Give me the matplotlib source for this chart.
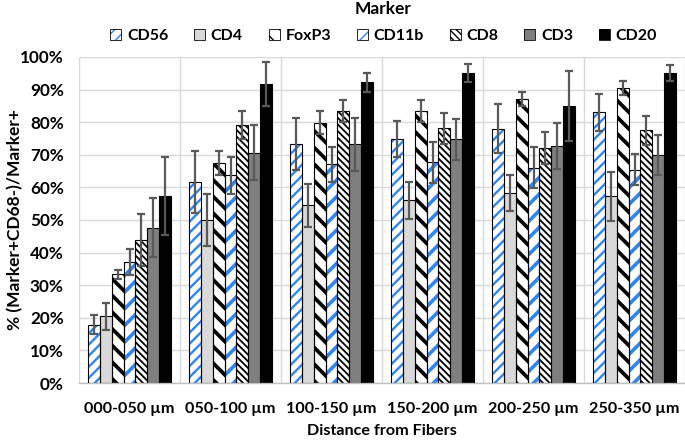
import matplotlib
matplotlib.use("Agg")
import matplotlib.pyplot as plt
import numpy as np
from matplotlib.patches import Patch

categories = ["000-050 µm", "050-100 µm", "100-150 µm", "150-200 µm", "200-250 µm", "250-350 µm"]
markers = ["CD56", "CD4", "FoxP3", "CD11b", "CD8", "CD3", "CD20"]

CD56 = [17.9, 61.7, 73.3, 74.9, 78.0, 83.1]
CD4 = [20.4, 50.1, 54.5, 56.0, 58.2, 57.3]
FoxP3 = [33.3, 67.5, 79.8, 83.4, 87.1, 90.4]
CD11b = [37.0, 63.7, 67.1, 67.7, 66.0, 65.4]
CD8 = [43.8, 79.1, 83.4, 78.1, 72.1, 77.5]
CD3 = [47.6, 70.6, 73.2, 74.8, 72.7, 70.0]
CD20 = [57.3, 91.7, 92.2, 95.1, 85.0, 95.0]

CD56_err = [3.0, 9.6, 8.0, 5.6, 7.5, 5.7]
CD4_err = [4.0, 8.0, 6.5, 5.6, 5.5, 7.5]
FoxP3_err = [1.5, 3.8, 3.5, 3.3, 2.1, 2.2]
CD11b_err = [4.0, 5.6, 5.4, 6.3, 6.3, 4.8]
CD8_err = [8.0, 4.2, 3.4, 4.8, 4.8, 4.4]
CD3_err = [9.0, 8.4, 8.1, 6.3, 7.1, 6.1]
CD20_err = [12.0, 6.7, 3.0, 2.8, 10.8, 2.5]

values = [CD56, CD4, FoxP3, CD11b, CD8, CD3, CD20]
errors = [CD56_err, CD4_err, FoxP3_err, CD11b_err, CD8_err, CD3_err, CD20_err]

BLUE = "#2f86f0"
# (facecolor, hatch, hatch color, hatch linewidth)
styles = [
    ("white", "///", BLUE, 1.7),
    ("#d9d9d9", None, None, 0),
    ("white", "\\\\", "black", 2.7),
    ("white", "//", BLUE, 2.6),
    ("white", "\\\\\\\\\\", "black", 1.3),
    ("#7f7f7f", None, None, 0),
    ("black", None, None, 0),
]

FONT = "Lato"
plt.rcParams["font.family"] = [FONT, "DejaVu Sans"]
plt.rcParams["font.weight"] = "bold"

DPI = 100
fig = plt.figure(figsize=(6.85, 4.44), dpi=DPI)
ax = fig.add_axes([79 / 685, 1 - 383 / 444, 606 / 685, 326 / 444])

n = len(markers)
x = np.arange(len(categories))
w = 0.825 / n

def make_hatched(fc, hatch, hc, hlw):
    with plt.rc_context({"hatch.linewidth": hlw if hlw else 1.0}):
        p = Patch(facecolor=fc, edgecolor=hc if hc else fc, hatch=hatch, linewidth=0)
    if hasattr(p, "set_hatch_linewidth") and hlw:
        p.set_hatch_linewidth(hlw)
    return p

legend_handles = []
for i, (name, vals, errs) in enumerate(zip(markers, values, errors)):
    fc, hatch, hc, hlw = styles[i]
    pos = x - 0.825 / 2 + w * (i + 0.5)
    if hatch:
        with plt.rc_context({"hatch.linewidth": hlw}):
            bars = ax.bar(pos, vals, width=w, facecolor=fc, edgecolor=hc, hatch=hatch,
                          linewidth=0, zorder=2)
        for b in bars:
            if hasattr(b, "set_hatch_linewidth"):
                b.set_hatch_linewidth(hlw)
    else:
        ax.bar(pos, vals, width=w, facecolor=fc, linewidth=0, zorder=2)
    ax.bar(pos, vals, width=w, facecolor="none", edgecolor="black", linewidth=0.8, zorder=3)
    ax.errorbar(pos, vals, yerr=errs, fmt="none", ecolor="#595959", elinewidth=1.6,
                capsize=3.2, capthick=1.6, zorder=4)
    hp = make_hatched(fc, hatch, hc, min(hlw, 1.2) if hlw else 0)
    border = Patch(facecolor="none", edgecolor="black", linewidth=0.6)
    legend_handles.append((hp, border))

ax.set_xlim(-0.5, len(categories) - 0.5)
ax.set_ylim(0, 100)
ax.set_yticks(np.arange(0, 101, 10))
ax.set_yticklabels([f"{v}%" for v in range(0, 101, 10)])
ax.set_xticks(x)
ax.set_xticklabels(categories)
ax.tick_params(axis="both", length=0)
ax.tick_params(axis="x", pad=14, labelsize=11.6)
ax.tick_params(axis="y", pad=11, labelsize=12.3)

ax.grid(axis="y", color="#d9d9d9", linewidth=1.0, zorder=0)
for b in np.arange(-0.5, len(categories) + 0.5, 1):
    ax.axvline(b, color="#d9d9d9", linewidth=1.0, zorder=0)
ax.set_axisbelow(True)
for s in ["top", "right", "left"]:
    ax.spines[s].set_visible(False)
ax.spines["bottom"].set_color("#bfbfbf")
ax.spines["bottom"].set_linewidth(1.0)

fig.text(15 / 685, 1 - 220 / 444, "% (Marker+CD68-)/Marker+", rotation=90,
         ha="center", va="center", fontsize=12.5, fontweight="bold")
fig.text(382 / 685, 1 - 431 / 444, "Distance from Fibers",
         ha="center", va="center", fontsize=11.6, fontweight="bold")
fig.text(383 / 685, 1 - 9.5 / 444, "Marker", ha="center", va="center",
         fontsize=12.5, fontweight="bold")

legfs = 11.5
def build_legend(cs, anchor_x):
    return fig.legend(legend_handles, markers, loc="center", bbox_to_anchor=(anchor_x, 1 - 36 / 444),
                      ncol=7, frameon=False, prop={"weight": "bold", "size": legfs},
                      handlelength=0.7, handleheight=0.7, handletextpad=0.35,
                      columnspacing=cs, borderaxespad=0, borderpad=0)

cs = 2.0
ax_x = 0.5
leg = build_legend(cs, ax_x)
for _ in range(3):
    fig.canvas.draw()
    r = fig.canvas.get_renderer()
    ts = leg.get_texts()
    left = ts[0].get_window_extent(r).x0
    right = ts[-1].get_window_extent(r).x1
    span = right - left
    fs_px = legfs * DPI / 72
    cs = cs + (530 - span) / (6 * fs_px)
    center = (left + right) / 2
    ax_x = ax_x + (392 - center) / 685
    leg.remove()
    leg = build_legend(cs, ax_x)

fig.savefig("out.png", dpi=DPI)
